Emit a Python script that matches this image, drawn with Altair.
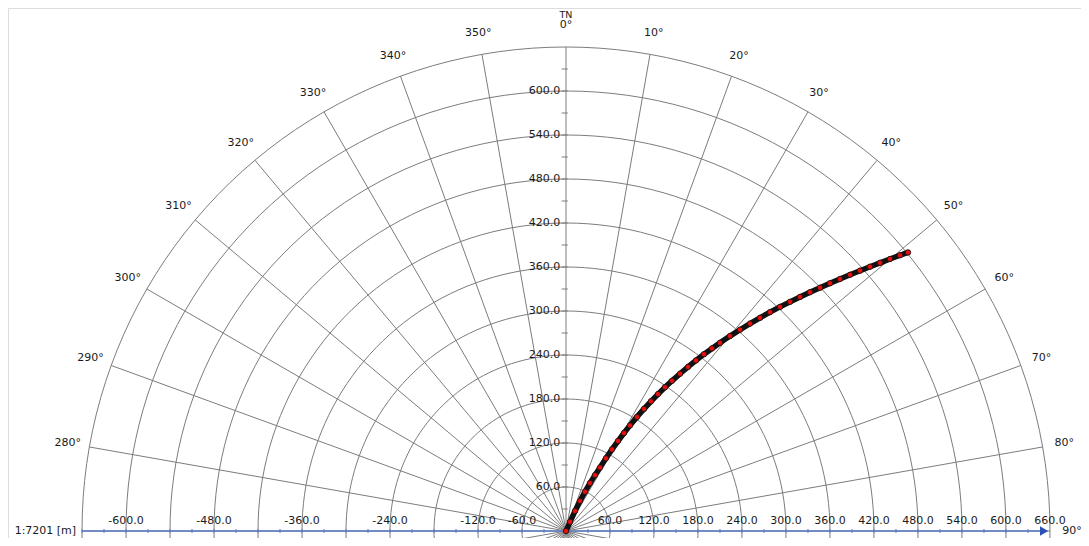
import altair as alt
import numpy as np
import pandas as pd

# ---- data (units: metres, east = x, north = y) ----
traj_east = [0, 5.5, 12.3, 19.1, 25.9, 32.7, 39.5, 46.4, 54.5, 62.7, 70.9, 79.1, 87.3, 96.8,
             106.4, 115.9, 125.5, 135.0, 144.5, 155.5, 166.4, 177.3, 188.2, 199.1, 210.0,
             223.6, 237.3, 250.9, 264.5, 278.2, 291.8, 305.5, 319.1, 332.7, 346.4, 360.0,
             373.6, 387.3, 400.9, 414.5, 428.2, 441.8, 455.5, 466.4]
traj_north = [0, 12.5, 27.3, 40.9, 53.6, 65.3, 76.2, 86.5, 99.1, 111.3, 122.7, 133.6, 144.0,
              155.6, 166.5, 176.9, 186.7, 196.0, 204.8, 214.5, 223.8, 232.6, 241.1, 249.0,
              256.6, 265.8, 274.5, 282.8, 290.7, 298.4, 305.6, 312.5, 319.2, 325.6, 331.8,
              337.8, 343.6, 349.4, 355.0, 360.4, 365.7, 370.9, 376.0, 379.9]

ring_radii = [60, 120, 180, 240, 300, 360, 420, 480, 540, 600, 660]
radial_labels = [60, 120, 180, 240, 300, 360, 420, 480, 540, 600]
spoke_angles = list(range(0, 360, 10))
angle_labels = [280, 290, 300, 310, 320, 330, 340, 350, 0, 10, 20, 30, 40, 50, 60, 70, 80, 90]
x_labels = [-600, -480, -360, -240, -120, -60, 60, 120, 180, 240, 300, 360, 420, 480, 540, 600, 660]
scale_text = "1:7201 [m]"
north_text = "TN"

# ---- geometry ----
K = 0.73333          # px per metre
W, H = 1073, 530
CX, CY = 558, 523    # centre in chart pixels
xdom = [-CX / K, (W - CX) / K]
ydom = [(CY - H) / K, CY / K]
xs = alt.Scale(domain=xdom, nice=False, zero=False)
ys = alt.Scale(domain=ydom, nice=False, zero=False)
FONT = "DejaVu Sans"
TXT = "#1a1a1a"
GRID = "#7c7c7c"
BLUE = "#5b7bc6"


def X(f):
    return alt.X(f, type="quantitative", scale=xs, axis=None)


def Y(f):
    return alt.Y(f, type="quantitative", scale=ys, axis=None)


# rings
th = np.deg2rad(np.arange(0, 362, 2))
ring_rows = []
for r in ring_radii:
    for i, t in enumerate(th):
        ring_rows.append({"ring": r, "i": i, "x": r * np.sin(t), "y": r * np.cos(t)})
rings = alt.Chart(pd.DataFrame(ring_rows)).mark_line(
    color=GRID, strokeWidth=1, clip=True
).encode(x=X("x"), y=Y("y"), detail="ring:N", order="i:Q")

# spokes
sp = pd.DataFrame({
    "x": 0.0, "y": 0.0,
    "x2": [660 * np.sin(np.deg2rad(a)) for a in spoke_angles],
    "y2": [660 * np.cos(np.deg2rad(a)) for a in spoke_angles],
})
spokes = alt.Chart(sp).mark_rule(color=GRID, strokeWidth=1, clip=True).encode(
    x=X("x"), y=Y("y"), x2="x2", y2="y2")

# vertical axis minor ticks
vt = pd.DataFrame({"y": list(range(30, 660, 30))})
vt["x"] = -6.0
vt["x2"] = 2.5
vticks = alt.Chart(vt).mark_rule(color=GRID, strokeWidth=1).encode(
    x=X("x"), x2="x2", y=Y("y"))

# horizontal (blue) axis
hx = alt.Chart(pd.DataFrame({"x": [-660], "x2": [650], "y": [0]})).mark_rule(
    color=BLUE, strokeWidth=1.6).encode(x=X("x"), x2="x2", y=Y("y"))
ht = pd.DataFrame({"x": [v for v in range(-660, 660, 30)]})
ht["y"] = -2.8
ht["y2"] = 2.8
hticks = alt.Chart(ht).mark_rule(color=BLUE, strokeWidth=1).encode(
    x=X("x"), y=Y("y"), y2="y2")
arrow = alt.Chart(pd.DataFrame({"x": [652], "y": [0]})).mark_point(
    shape="triangle-right", filled=True, color="#2a52b5", size=90, opacity=1
).encode(x=X("x"), y=Y("y"))

# x labels
xl = pd.DataFrame({"x": x_labels, "t": [f"{v:.1f}" for v in x_labels]})
xl["y"] = 14.0
xlab = alt.Chart(xl).mark_text(font=FONT, fontSize=11, color=TXT, baseline="middle",
                               align="center").encode(x=X("x"), y=Y("y"), text="t:N")

# radial labels
rl = pd.DataFrame({"y": radial_labels, "t": [f"{v:.1f}" for v in radial_labels]})
rl["x"] = -8.0
rlab = alt.Chart(rl).mark_text(font=FONT, fontSize=11, color=TXT, baseline="middle",
                               align="right").encode(x=X("x"), y=Y("y"), text="t:N")

# angle labels
RL = 506 / K
al = pd.DataFrame({
    "x": [RL * np.sin(np.deg2rad(a)) for a in angle_labels],
    "y": [RL * np.cos(np.deg2rad(a)) for a in angle_labels],
    "t": [f"{a}°" for a in angle_labels],
})
alab = alt.Chart(al).mark_text(font=FONT, fontSize=11, color=TXT, baseline="middle",
                               align="center").encode(x=X("x"), y=Y("y"), text="t:N")

tn = alt.Chart(pd.DataFrame({"x": [0], "y": [516 / K], "t": [north_text]})).mark_text(
    font=FONT, fontSize=9.5, color=TXT, baseline="middle", align="center"
).encode(x=X("x"), y=Y("y"), text="t:N")

sc = alt.Chart(pd.DataFrame({"x": [-668], "y": [0], "t": [scale_text]})).mark_text(
    font=FONT, fontSize=11, color=TXT, baseline="middle", align="right"
).encode(x=X("x"), y=Y("y"), text="t:N")

# trajectory
tr = pd.DataFrame({"x": traj_east, "y": traj_north, "i": range(len(traj_east))})
tline = alt.Chart(tr).mark_line(color="#111", strokeWidth=5.5).encode(
    x=X("x"), y=Y("y"), order="i:Q")
tpts = alt.Chart(tr).mark_point(filled=True, fill="#e41010", stroke="#111", strokeWidth=0.8,
                                size=30, opacity=1).encode(x=X("x"), y=Y("y"))

chart = alt.layer(rings, spokes, vticks, hx, hticks, arrow, xlab, rlab, alab, tn, sc,
                  tline, tpts).properties(
    width=W, height=H, padding=0, autosize=alt.AutoSizeParams(type="none")
).configure_view(stroke=None).configure(background="white")

chart.save("out.html", embed_options={"renderer": "svg", "actions": False})
